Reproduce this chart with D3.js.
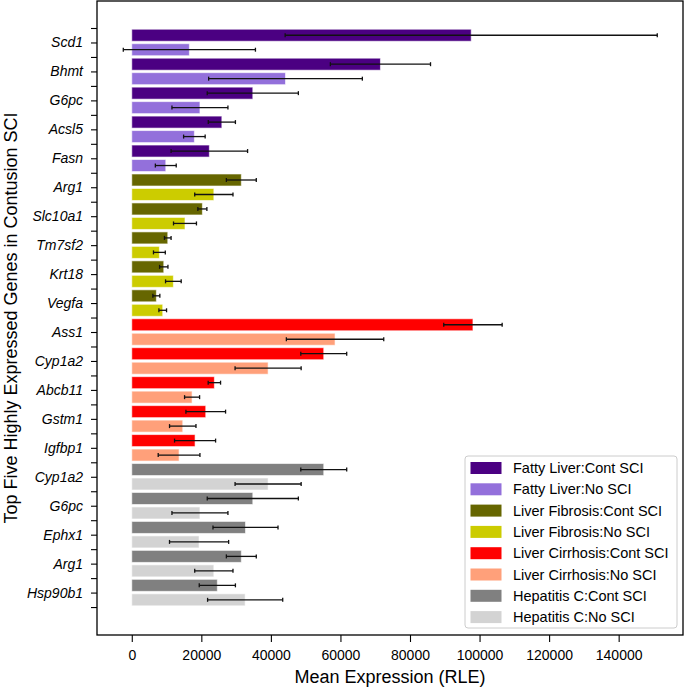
<!DOCTYPE html>
<html><head><meta charset="utf-8">
<script src="https://cdn.jsdelivr.net/npm/d3@7"></script>
<style>body{margin:0;background:#fff;} text{font-family:"Liberation Sans",Arial,sans-serif;}</style>
</head><body>
<svg id="chart" width="685" height="687"></svg>
<script>
const genes = ["Scd1","Bhmt","G6pc","Acsl5","Fasn","Arg1","Slc10a1","Tm7sf2","Krt18","Vegfa","Ass1","Cyp1a2","Abcb11","Gstm1","Igfbp1","Cyp1a2","G6pc","Ephx1","Arg1","Hsp90b1"];
const diseases = ["Fatty Liver","Liver Fibrosis","Liver Cirrhosis","Hepatitis C"];
const contMean = [97600,71500,34800,25900,22300,31500,20300,10350,9200,7070,98100,55200,23750,21270,18200,55200,34800,32700,31500,24600];
const contErr  = [53500,14400,13100,3900,11000,4300,1300,950,1200,1000,8400,6600,1780,5700,5900,6600,13100,9350,4300,5200];
const noMean   = [16560,44200,19600,18000,9780,23600,15300,7940,11960,8900,58450,39200,17340,14660,13600,39200,19600,19350,23600,32600];
const noErr    = [19000,22100,8050,3100,3000,5500,3300,1700,2250,1100,14000,9500,2160,3800,6000,9500,8050,8500,5500,10800];
const contColors = ["#4B0082","#666600","#FF0000","#808080"];
const noColors   = ["#9370DB","#CCCC00","#FFA07A","#D3D3D3"];
const xTicks = [0,20000,40000,60000,80000,100000,120000,140000];

const svg = d3.select("#chart");
const L=97, R=683, T=1, B=635;
const x = d3.scaleLinear().domain([-10000,158500]).range([L,R]);
const y = d3.scaleLinear().domain([-1.865,41.93]).range([T,B]);
const step = y(1)-y(0);
const bh = step*0.83;

// build bars
const bars = [];
genes.forEach((g,i)=>{
  const d = Math.floor(i/5);
  bars.push({pos:2*i+0.5, v:contMean[i], e:contErr[i], c:contColors[d]});
  bars.push({pos:2*i+1.5, v:noMean[i], e:noErr[i], c:noColors[d]});
});

svg.append("g").selectAll("rect").data(bars).join("rect")
  .attr("x", x(0)).attr("y", d=>y(d.pos)-bh/2)
  .attr("width", d=>x(d.v)-x(0)).attr("height", bh)
  .attr("fill", d=>d.c).attr("stroke","#fff").attr("stroke-opacity",0.6).attr("stroke-width",1);

const eg = svg.append("g").attr("stroke","#111").attr("stroke-width",1.3);
bars.forEach(d=>{
  const yy=y(d.pos);
  eg.append("line").attr("x1",x(d.v-d.e)).attr("x2",x(d.v+d.e)).attr("y1",yy).attr("y2",yy);
  eg.append("line").attr("x1",x(d.v-d.e)).attr("x2",x(d.v-d.e)).attr("y1",yy-2).attr("y2",yy+2);
  eg.append("line").attr("x1",x(d.v+d.e)).attr("x2",x(d.v+d.e)).attr("y1",yy-2).attr("y2",yy+2);
});

// frame
svg.append("rect").attr("x",L).attr("y",T).attr("width",R-L).attr("height",B-T)
  .attr("fill","none").attr("stroke","#000").attr("stroke-width",1.3);

// x axis
const xAxis = d3.axisBottom(x).tickValues(xTicks).tickFormat(d3.format("d")).tickSize(7).tickPadding(8);
const gx = svg.append("g").attr("transform",`translate(0,${B})`).call(xAxis);
gx.select(".domain").remove();
gx.selectAll("text").attr("font-size",14).attr("fill","#000").style("font-family","'Liberation Sans',Arial,sans-serif");
gx.selectAll("line").attr("stroke","#000").attr("stroke-width",1.1);

// y axis: ticks at every bar boundary, labels at odd positions
const yPos = d3.range(0,41);
const yAxis = d3.axisLeft(y).tickValues(yPos).tickSize(6).tickPadding(8)
  .tickFormat(p => p%2===1 ? genes[(p-1)/2] : "");
const gy = svg.append("g").attr("transform",`translate(${L},0)`).call(yAxis);
gy.select(".domain").remove();
gy.selectAll("text").attr("font-size",14).attr("font-style","italic").attr("fill","#000").style("font-family","'Liberation Sans',Arial,sans-serif");
gy.selectAll("line").attr("stroke","#000").attr("stroke-width",1.1);

// axis labels
svg.append("text").attr("x",(L+R)/2).attr("y",683).attr("text-anchor","middle")
  .attr("font-size",18).text("Mean Expression (RLE)");
svg.append("text").attr("transform",`translate(17,${(T+B)/2}) rotate(-90)`).attr("text-anchor","middle")
  .attr("font-size",18).text("Top Five Highly Expressed Genes in Contusion SCI");

// legend
const items = [];
diseases.forEach((d,i)=>{
  items.push({label:d+":Cont SCI", c:contColors[i]});
  items.push({label:d+":No SCI", c:noColors[i]});
});
const lg = svg.append("g");
lg.append("rect").attr("x",465).attr("y",456).attr("width",212).attr("height",172).attr("rx",3)
  .attr("fill","#fff").attr("fill-opacity",0.8).attr("stroke","#ccc").attr("stroke-width",1);
items.forEach((it,i)=>{
  const cy = 468 + i*21.3;
  lg.append("rect").attr("x",470.5).attr("y",cy-6).attr("width",31).attr("height",12).attr("fill",it.c);
  lg.append("text").attr("x",513).attr("y",cy+5).attr("font-size",14.5).attr("fill","#000").text(it.label);
});
</script>
</body></html>
